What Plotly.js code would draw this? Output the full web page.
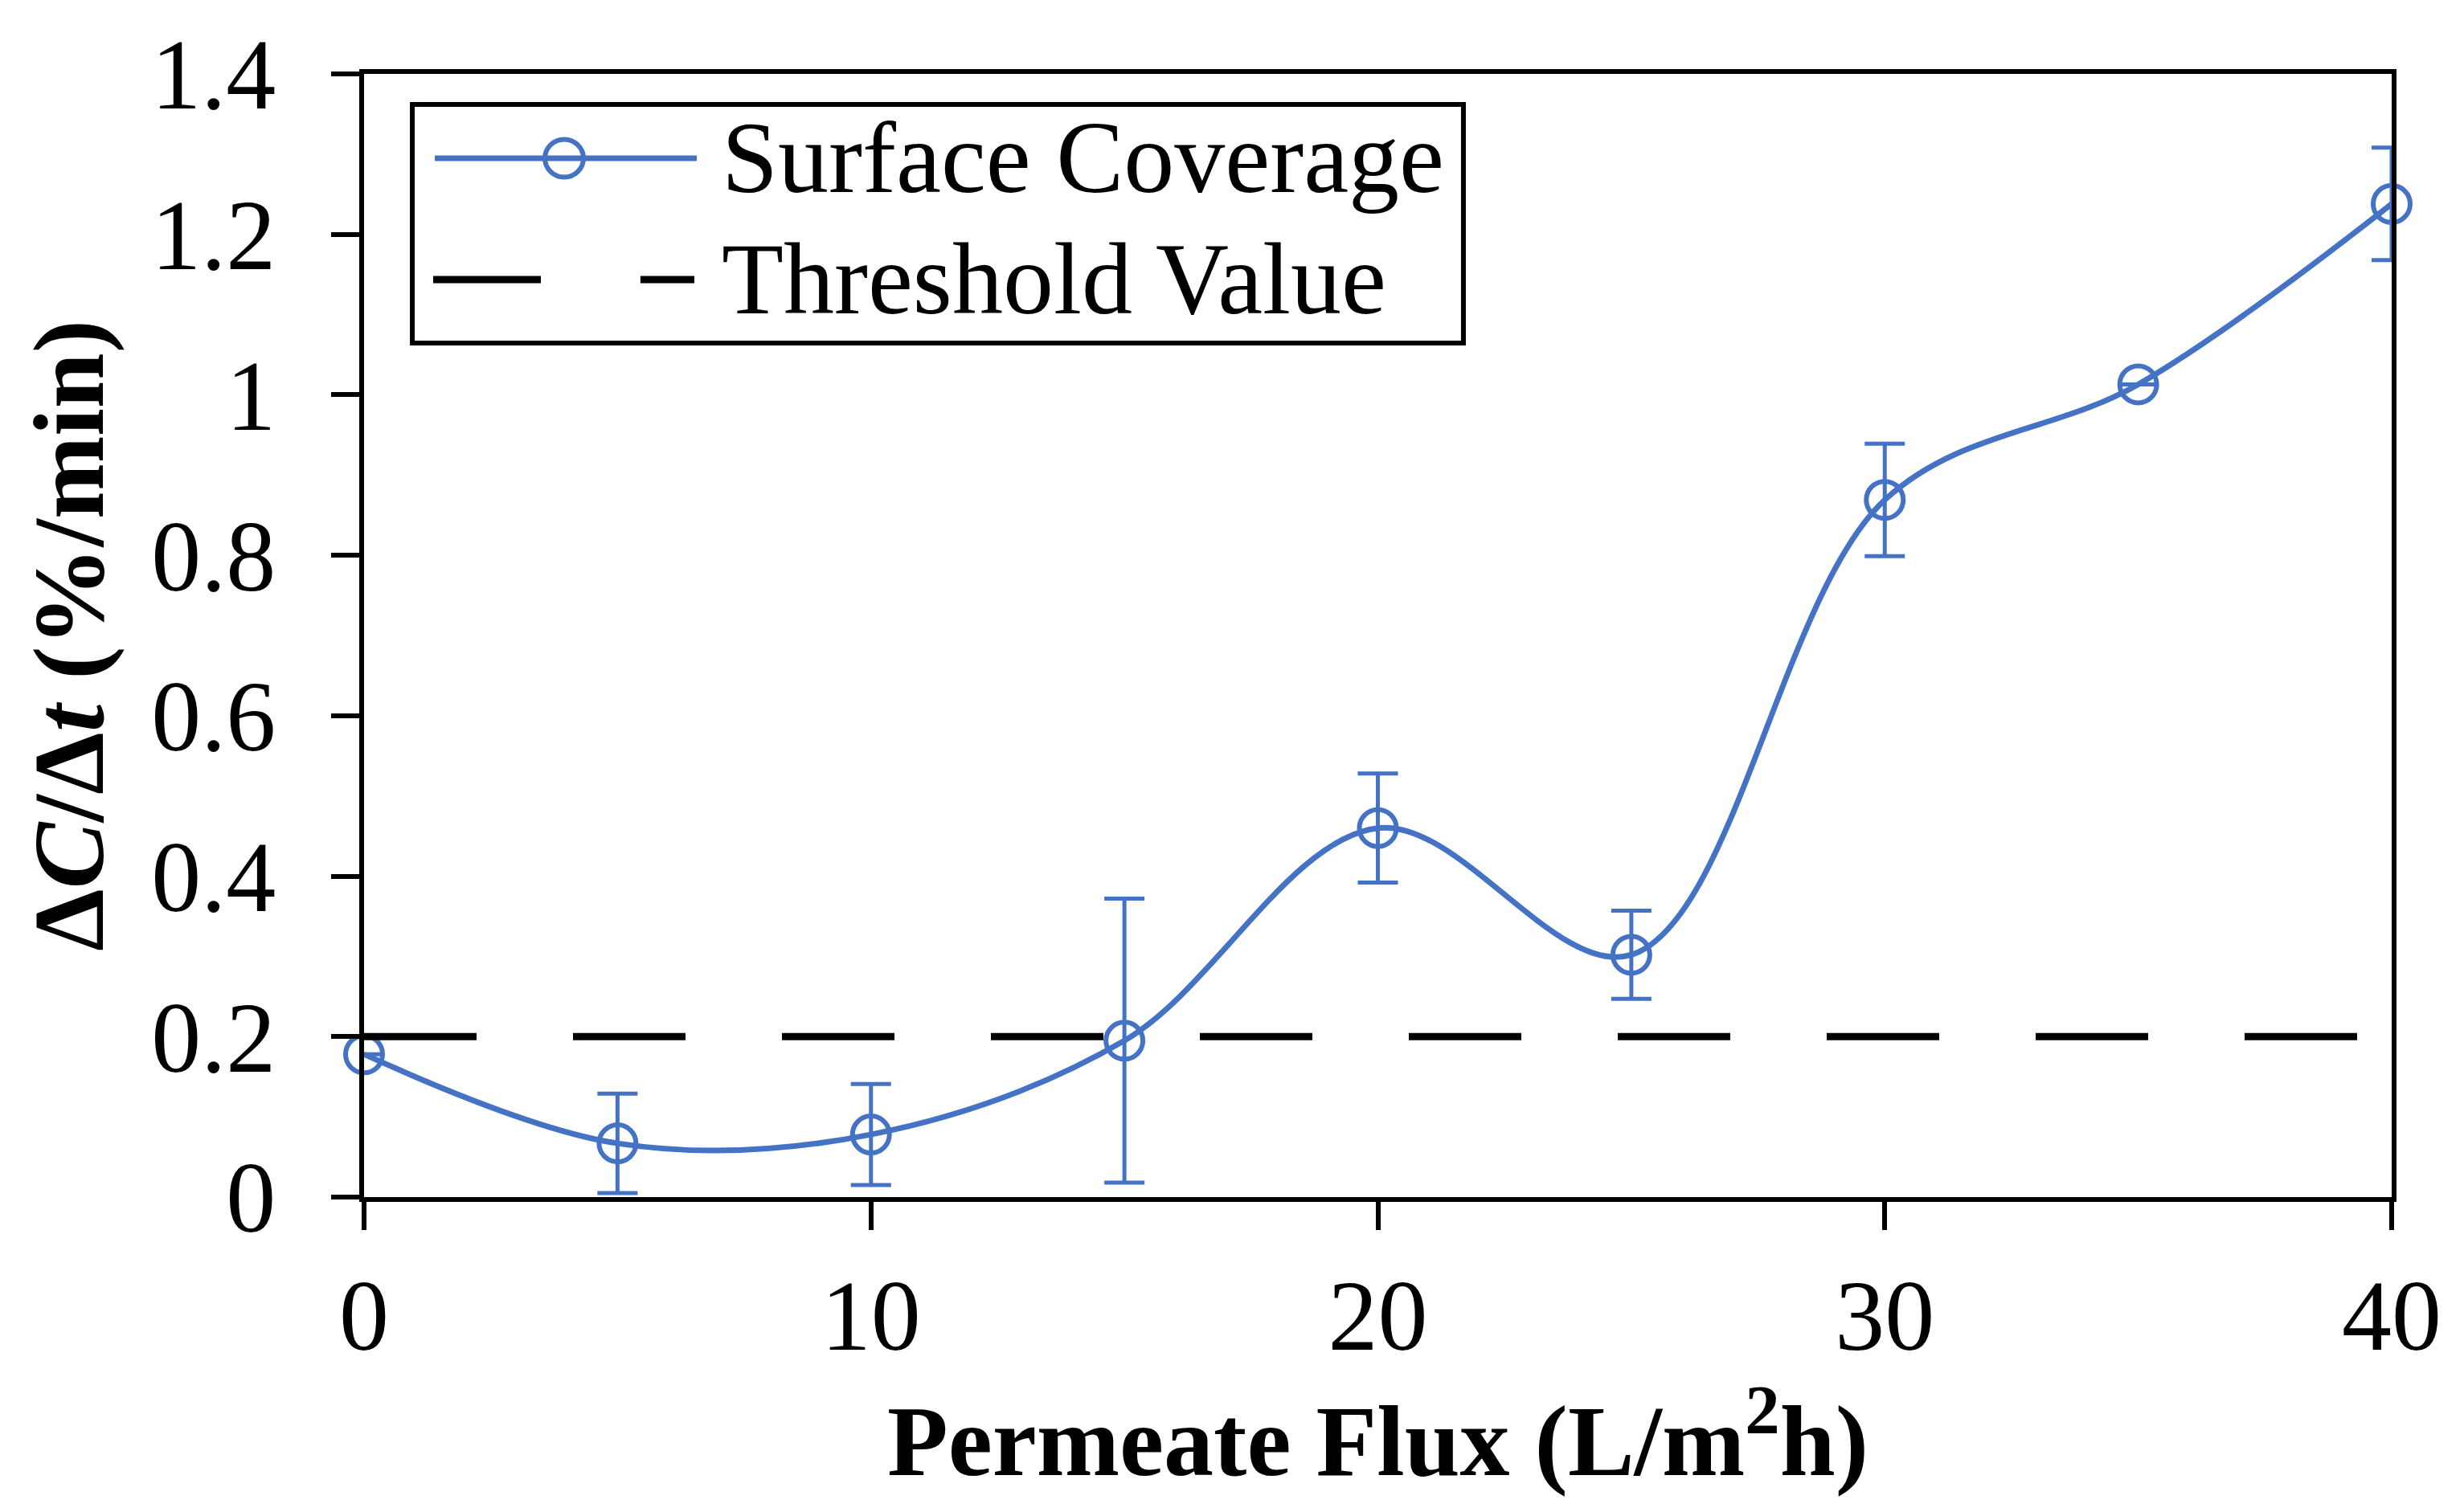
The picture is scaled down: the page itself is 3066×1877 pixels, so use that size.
<!DOCTYPE html>
<html>
<head>
<meta charset="utf-8">
<script src="https://cdn.plot.ly/plotly-3.0.1.min.js"></script>
<style>
  html, body { margin: 0; padding: 0; background: #ffffff; }
  #chart { width: 3066px; height: 1877px; }
</style>
</head>
<body>
<div id="chart"></div>
<script>
// Data
var flux = [0, 5, 10, 15, 20, 25, 30, 35, 40];
var rate = [0.178, 0.067, 0.078, 0.195, 0.46, 0.302, 0.869, 1.013, 1.238];
var rateErr = [null, 0.062, 0.063, 0.177, 0.068, 0.055, 0.07, null, 0.07];
var thresholdX = [0, 40];
var thresholdY = [0.2, 0.2];
var xTicks = [0, 10, 20, 30, 40];
var yTicks = [0, 0.2, 0.4, 0.6, 0.8, 1, 1.2, 1.4];
var yTickText = ['0', '0.2', '0.4', '0.6', '0.8', '1', '1.2', '1.4'];
var seriesNames = ['Surface Coverage', 'Threshold Value'];

var blue = '#4472C4';
var fontFam = '"Liberation Serif", "Times New Roman", serif';

var traces = [
  {
    x: flux,
    y: rate,
    name: seriesNames[0],
    type: 'scatter',
    mode: 'lines+markers',
    line: { color: blue, width: 7, shape: 'spline', smoothing: 1 },
    marker: { symbol: 'circle-open', size: 46, color: blue, line: { width: 6, color: blue } },
    error_y: { type: 'data', array: rateErr, visible: true, color: blue, thickness: 5, width: 25 },
    cliponaxis: false
  },
  {
    x: thresholdX,
    y: thresholdY,
    name: seriesNames[1],
    type: 'scatter',
    mode: 'lines',
    line: { color: '#000000', width: 9, dash: '140px,120px' },
    cliponaxis: false
  }
];

// Legend drawn as a boxed key (paper coordinates)
var legBox = { x0: 0.0238, x1: 0.5422, y0: 0.7604, y1: 0.9728 };
var row1 = 0.9249, row2 = 0.8169;
var shapes = [
  { type: 'rect', xref: 'paper', yref: 'paper', x0: legBox.x0, x1: legBox.x1, y0: legBox.y0, y1: legBox.y1,
    line: { color: '#000000', width: 6 }, fillcolor: '#ffffff', layer: 'above' },
  { type: 'line', xref: 'paper', yref: 'paper', x0: 0.0349, x1: 0.1641, y0: row1, y1: row1,
    line: { color: blue, width: 7 }, layer: 'above' },
  { type: 'circle', xref: 'paper', yref: 'paper', x0: 0.0987 - 0.0095, x1: 0.0987 + 0.0095, y0: row1 - 0.0168, y1: row1 + 0.0168,
    line: { color: blue, width: 6 }, fillcolor: 'rgba(0,0,0,0)', layer: 'above' },
  { type: 'line', xref: 'paper', yref: 'paper', x0: 0.0341, x1: 0.0872, y0: row2, y1: row2,
    line: { color: '#000000', width: 9 }, layer: 'above' },
  { type: 'line', xref: 'paper', yref: 'paper', x0: 0.1363, x1: 0.1629, y0: row2, y1: row2,
    line: { color: '#000000', width: 9 }, layer: 'above' }
];
var annotations = [
  { xref: 'paper', yref: 'paper', x: 0.1756, y: row1, xanchor: 'left', yanchor: 'middle', showarrow: false,
    text: seriesNames[0], font: { family: fontFam, size: 126, color: '#000000' } },
  { xref: 'paper', yref: 'paper', x: 0.1756, y: row2, xanchor: 'left', yanchor: 'middle', showarrow: false,
    text: seriesNames[1], font: { family: fontFam, size: 126, color: '#000000' } }
];

var layout = {
  width: 3066,
  height: 1877,
  paper_bgcolor: '#ffffff',
  plot_bgcolor: '#ffffff',
  margin: { l: 453, r: 90, t: 92, b: 387, pad: 0 },
  font: { family: fontFam, size: 124, color: '#000000' },
  showlegend: false,
  shapes: shapes,
  annotations: annotations,
  xaxis: {
    range: [0, 40],
    tickvals: xTicks,
    ticktext: xTicks.map(String),
    showline: true, linecolor: '#000000', linewidth: 6, mirror: true,
    ticks: 'outside', ticklen: 35, tickwidth: 6, tickcolor: '#000000',
    showgrid: false, zeroline: false,
    tickfont: { family: fontFam, size: 124 },
    title: { text: '<b>Permeate Flux (L/m<sup>2</sup>h)</b>', font: { family: fontFam, size: 124 }, standoff: 40 }
  },
  yaxis: {
    range: [0, 1.4],
    tickvals: yTicks,
    ticktext: yTickText,
    showline: true, linecolor: '#000000', linewidth: 6, mirror: true,
    ticks: 'outside', ticklen: 35, tickwidth: 6, tickcolor: '#000000',
    ticklabelstandoff: 44,
    showgrid: false, zeroline: false,
    tickfont: { family: fontFam, size: 124 },
    title: { text: '<b>Δ<i>C</i>/Δ<i>t</i> (%/min)</b>', font: { family: fontFam, size: 124 }, standoff: 20 }
  }
};

Plotly.newPlot('chart', traces, layout, { displayModeBar: false, staticPlot: true });
</script>
</body>
</html>
